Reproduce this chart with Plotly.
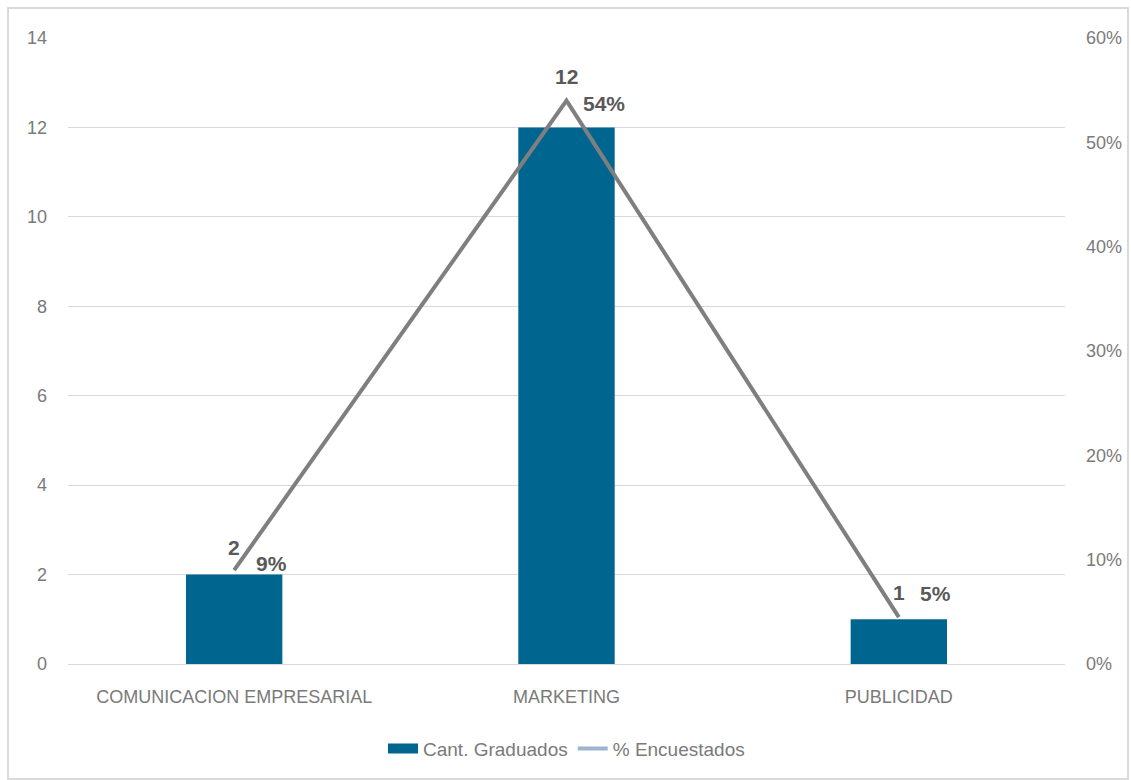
import plotly.graph_objects as go

categories = ["COMUNICACION EMPRESARIAL", "MARKETING", "PUBLICIDAD"]
graduados = [2, 12, 1]
encuestados = [0.09, 0.54, 0.045]
pct_labels = ["9%", "54%", "5%"]

bar_color = "#006690"
line_color = "#7f7f7f"
text_color = "#595959"
tick_color = "#7a7a7a"
font_family = "Liberation Sans Narrow, Liberation Sans, Arial"

fig = go.Figure()
fig.add_trace(go.Bar(
    x=categories, y=graduados, name="Cant. Graduados",
    marker=dict(color=bar_color, line=dict(width=0)), width=0.29,
    yaxis="y", showlegend=False,
))
fig.add_trace(go.Scatter(
    x=categories, y=encuestados, name="% Encuestados",
    mode="lines", line=dict(color=line_color, width=4),
    yaxis="y2", showlegend=False,
))
# legend proxies
fig.add_trace(go.Scatter(
    x=[None], y=[None], name="Cant. Graduados", mode="lines",
    line=dict(color=bar_color, width=14), yaxis="y",
))
fig.add_trace(go.Scatter(
    x=[None], y=[None], name="% Encuestados", mode="lines",
    line=dict(color="#9db5cc", width=4), yaxis="y2",
))

bar_shift = [27, 51, 27]
for c, v, s in zip(categories, graduados, bar_shift):
    fig.add_annotation(x=c, y=v, yref="y", text="<b>%d</b>" % v, showarrow=False,
                       yshift=s, font=dict(size=21, color=text_color, family=font_family))

pct_shift = [(37, 7), (37, -3), (37, 24)]
for c, v, t, (dx, dy) in zip(categories, encuestados, pct_labels, pct_shift):
    fig.add_annotation(x=c, y=v, yref="y2", text="<b>%s</b>" % t, showarrow=False,
                       xshift=dx, yshift=dy,
                       font=dict(size=21, color=text_color, family=font_family))

fig.update_layout(
    width=1131, height=780,
    margin=dict(l=68, r=66, t=38, b=116, autoexpand=False),
    paper_bgcolor="white", plot_bgcolor="white",
    font=dict(family=font_family, color=tick_color, size=18),
    xaxis=dict(showgrid=False, showline=False, ticks="", ticklabelstandoff=20,
               automargin=False, tickfont=dict(size=18, color=tick_color)),
    yaxis=dict(range=[0, 14], dtick=2, showgrid=True, gridcolor="#d9d9d9", gridwidth=1,
               zeroline=True, zerolinecolor="#d9d9d9", zerolinewidth=1, automargin=False,
               ticklabelstandoff=20, tickfont=dict(size=18, color=tick_color)),
    yaxis2=dict(range=[0, 0.6], dtick=0.1, tickformat=".0%", overlaying="y", side="right",
                showgrid=False, zeroline=False, ticklabelstandoff=20, automargin=False,
                tickfont=dict(size=18, color=tick_color)),
    legend=dict(orientation="h", x=0.5, xanchor="center", y=-0.105, yanchor="top",
                font=dict(size=19, color=tick_color), traceorder="normal"),
    bargap=0.71,
    shapes=[dict(type="rect", xref="paper", yref="paper",
                 x0=-0.0602, x1=1.0632, y0=-0.1837, y1=1.048,
                 line=dict(color="#d9d9d9", width=2), fillcolor="rgba(0,0,0,0)", layer="below")],
)

fig.write_html("out.html")
